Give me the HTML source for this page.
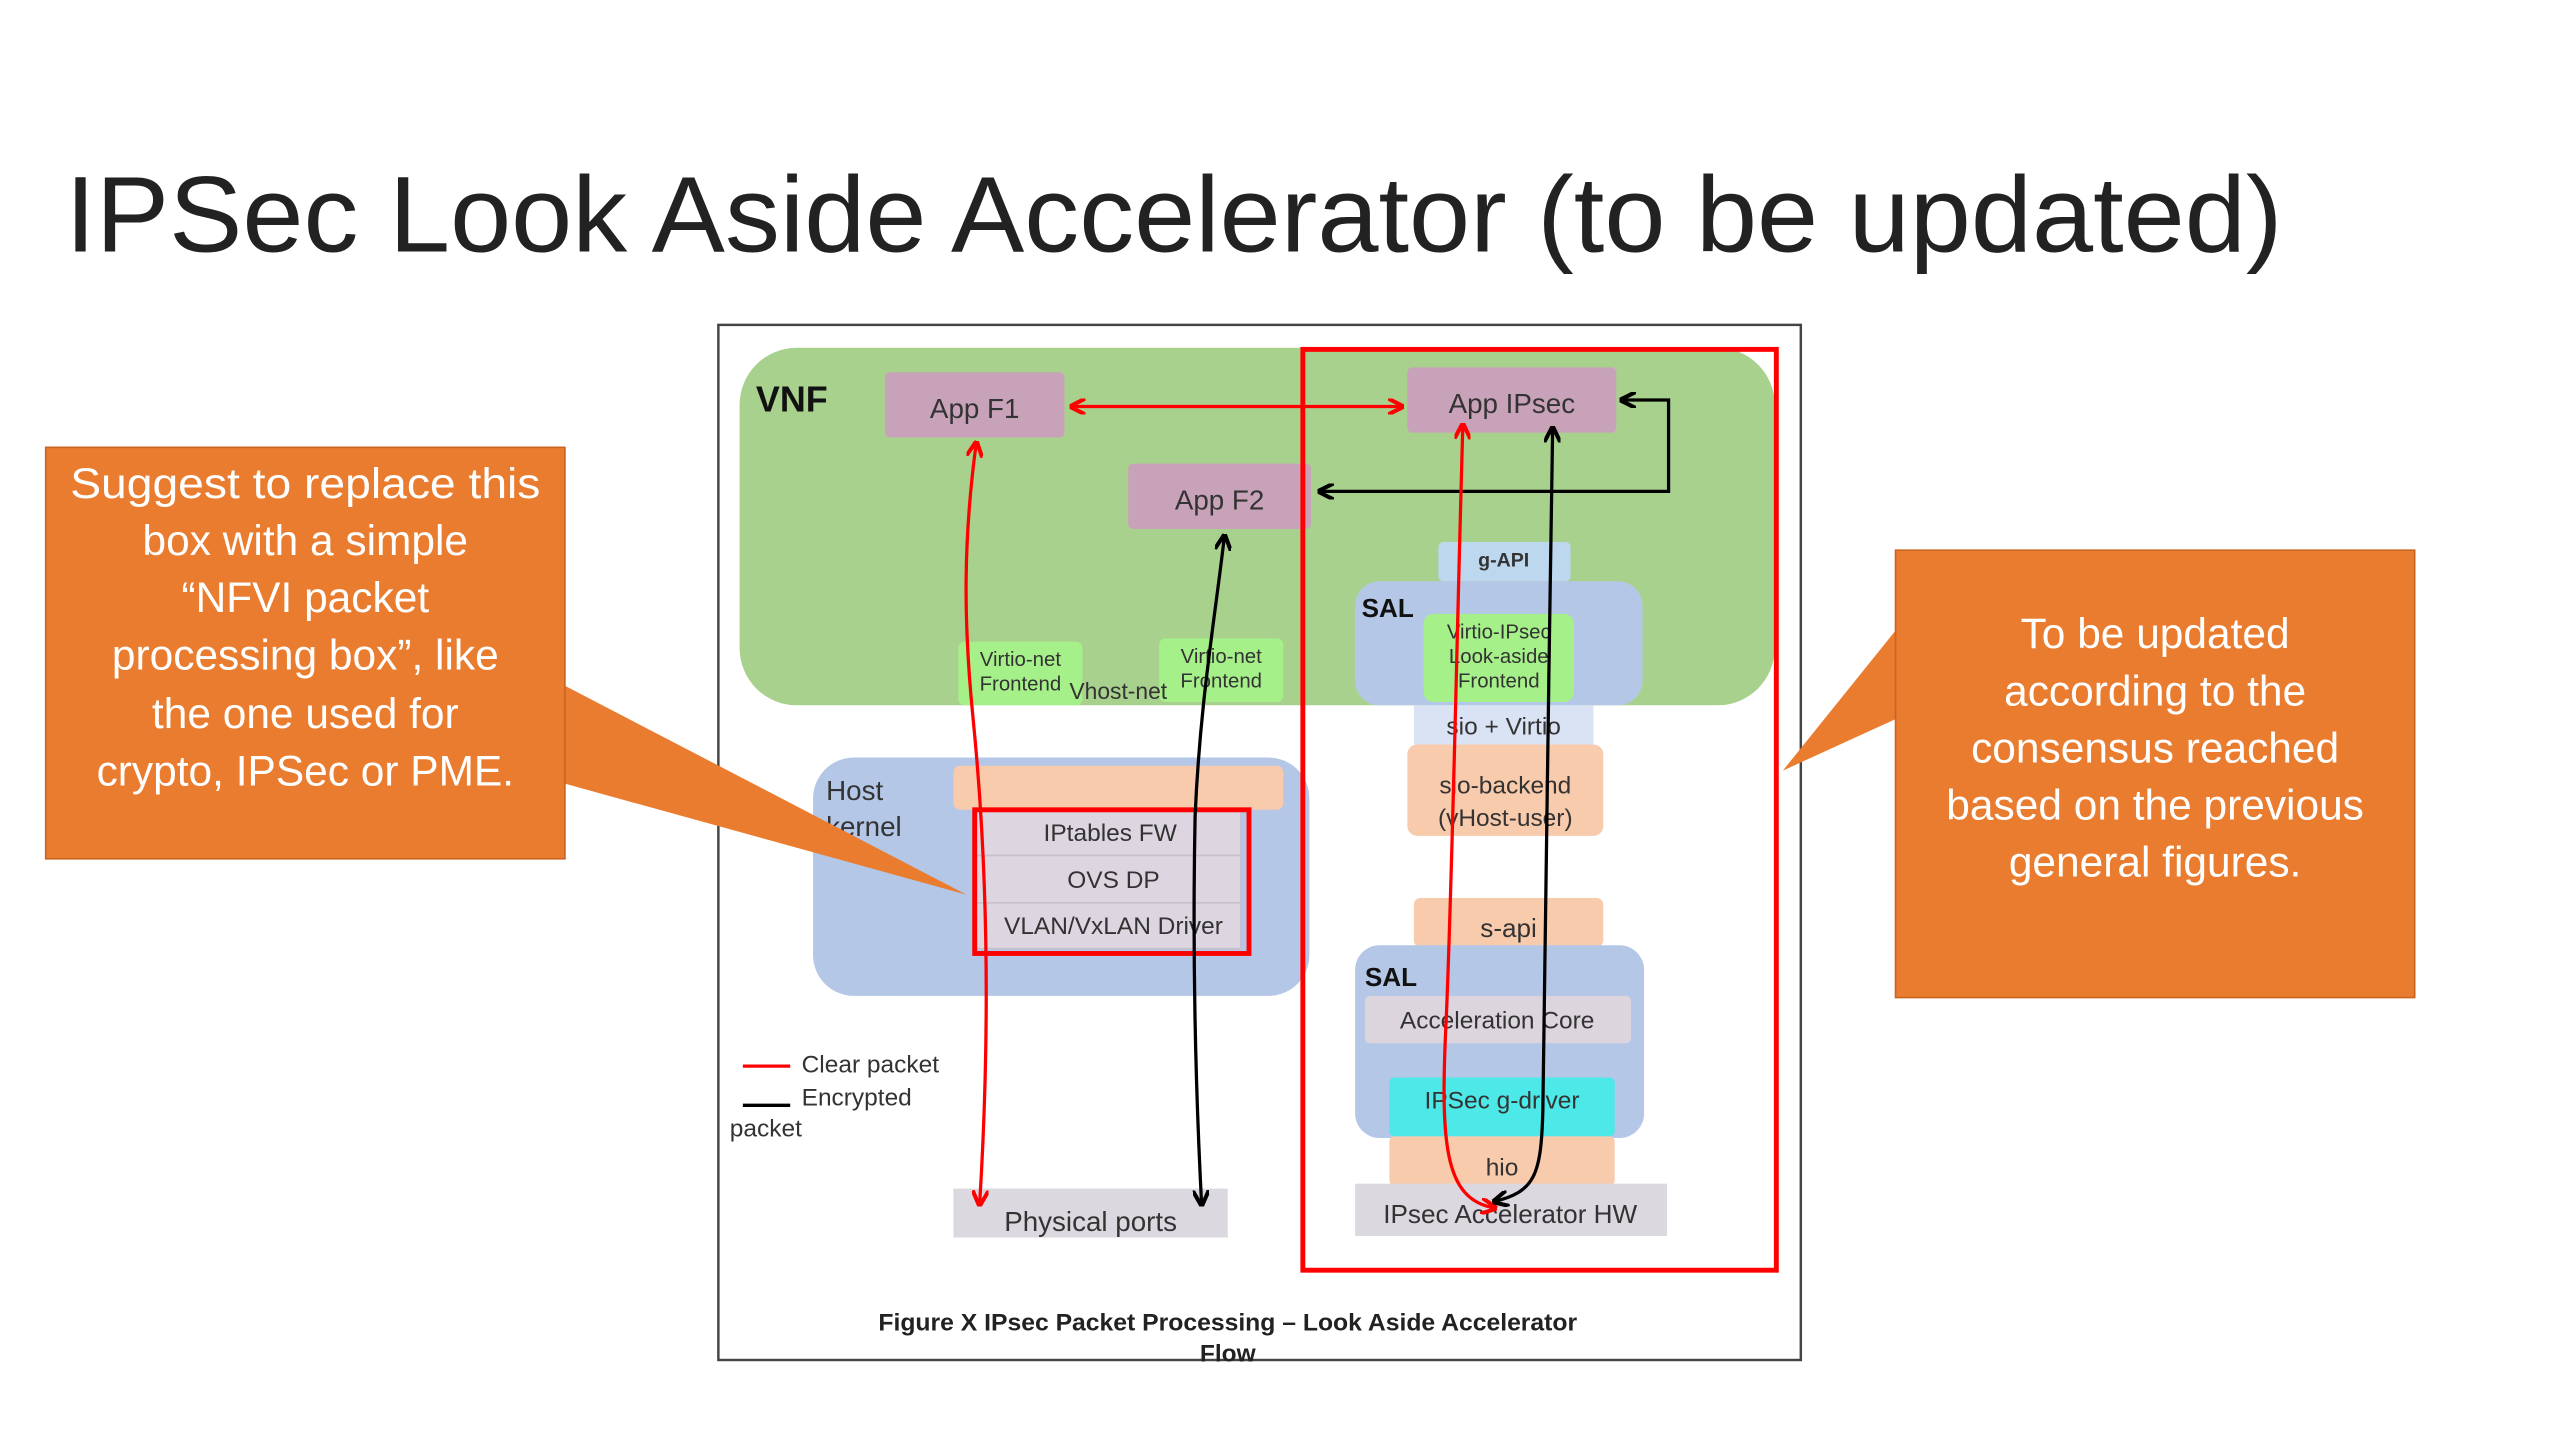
<!DOCTYPE html>
<html><head><meta charset="utf-8"><style>
html,body{margin:0;padding:0;background:#fff;width:2560px;height:1440px;overflow:hidden}
svg{display:block}
text{font-family:"Liberation Sans",sans-serif}
</style></head><body>
<svg width="2560" height="1440" viewBox="0 0 1568 882" xmlns="http://www.w3.org/2000/svg">
<defs>
<marker id="ar" viewBox="0 0 10 10" refX="9" refY="5" markerWidth="5" markerHeight="5" orient="auto-start-reverse"><path d="M0,0 L10,5 L0,10" fill="none" stroke="#f00" stroke-width="2.5"/></marker>
<marker id="ab" viewBox="0 0 10 10" refX="9" refY="5" markerWidth="5" markerHeight="5" orient="auto-start-reverse"><path d="M0,0 L10,5 L0,10" fill="none" stroke="#000" stroke-width="2.5"/></marker>
</defs>
<text x="40" y="154" font-size="66" fill="#222" textLength="1358" lengthAdjust="spacingAndGlyphs">IPSec Look Aside Accelerator (to be updated)</text>

<rect x="440" y="199" width="663" height="634" fill="#fff" stroke="#444" stroke-width="1.5"/>
<rect x="453" y="213" width="634" height="219" rx="35" fill="#a9d18e"/>
<text x="463" y="252" font-size="22" font-weight="bold" fill="#111">VNF</text>

<g font-size="17" fill="#333" text-anchor="middle">
<rect x="542" y="228" width="110" height="40" rx="3" fill="#c8a2b8"/><text x="597" y="256">App F1</text>
<rect x="862" y="225" width="128" height="40" rx="3" fill="#c8a2b8"/><text x="926" y="253">App IPsec</text>
<rect x="691" y="284" width="112" height="40" rx="3" fill="#c8a2b8"/><text x="747" y="312">App F2</text>
</g>

<g font-size="12.5" fill="#333" text-anchor="middle">
<rect x="587" y="393" width="76" height="39" rx="4" fill="#a6f08a"/><text x="625" y="408">Virtio-net</text><text x="625" y="423">Frontend</text>
<rect x="710" y="391" width="76" height="39" rx="4" fill="#a6f08a"/><text x="748" y="406">Virtio-net</text><text x="748" y="421">Frontend</text>
</g>
<text x="655" y="428" font-size="14" fill="#333">Vhost-net</text>

<rect x="881" y="332" width="81" height="24" rx="3" fill="#bdd7ee"/>
<text x="921" y="347" font-size="12" font-weight="bold" text-anchor="middle" fill="#333">g-API</text>
<rect x="830" y="356" width="176" height="76" rx="15" fill="#b4c7e7"/>
<text x="834" y="378" font-size="16" font-weight="bold" fill="#111">SAL</text>
<rect x="872" y="376" width="92" height="54" rx="6" fill="#a6f08a"/>
<g font-size="12.5" fill="#333" text-anchor="middle"><text x="918" y="391">Virtio-IPsec</text><text x="918" y="406">Look-aside</text><text x="918" y="421">Frontend</text></g>
<rect x="866" y="432" width="110" height="24" fill="#dae3f3"/>
<text x="921" y="450" font-size="15" text-anchor="middle" fill="#333">sio + Virtio</text>
<rect x="862" y="456" width="120" height="56" rx="6" fill="#f8cbad"/>
<g font-size="15" fill="#333" text-anchor="middle"><text x="922" y="486">sio-backend</text><text x="922" y="506">(vHost-user)</text></g>
<rect x="866" y="550" width="116" height="30" rx="4" fill="#f8cbad"/>
<text x="924" y="574" font-size="16" text-anchor="middle" fill="#333">s-api</text>
<rect x="830" y="579" width="177" height="118" rx="15" fill="#b4c7e7"/>
<text x="836" y="604" font-size="16" font-weight="bold" fill="#111">SAL</text>
<rect x="836" y="610" width="163" height="29" rx="3" fill="#dcd5de"/>
<text x="917" y="630" font-size="15" text-anchor="middle" fill="#333">Acceleration Core</text>
<rect x="851" y="660" width="138" height="36" rx="3" fill="#4de8e8"/>
<text x="920" y="679" font-size="15" text-anchor="middle" fill="#333">IPSec g-driver</text>
<rect x="851" y="696" width="138" height="30" rx="3" fill="#f8cbad"/>
<text x="920" y="720" font-size="15" text-anchor="middle" fill="#333">hio</text>
<rect x="830" y="725" width="191" height="32" fill="#dcd8df"/>
<text x="925" y="749" font-size="16" text-anchor="middle" fill="#333">IPsec Accelerator HW</text>

<rect x="498" y="464" width="304" height="146" rx="25" fill="#b4c7e7"/>
<text x="506" y="490" font-size="17" fill="#333">Host</text>
<text x="506" y="512" font-size="17" fill="#333">kernel</text>
<rect x="584" y="469" width="202" height="27" rx="4" fill="#f8cbad"/>
<g font-size="15" fill="#333" text-anchor="middle">
<rect x="598" y="497" width="162" height="27" fill="#ddd6e0" stroke="#c8c0cc"/><text x="680" y="515">IPtables FW</text>
<rect x="598" y="524" width="162" height="29" fill="#ddd6e0" stroke="#c8c0cc"/><text x="682" y="544">OVS DP</text>
<rect x="598" y="553" width="162" height="28" fill="#ddd6e0" stroke="#c8c0cc"/><text x="682" y="572">VLAN/VxLAN Driver</text>
</g>
<rect x="597" y="496" width="168" height="88" fill="none" stroke="#f00" stroke-width="3"/>

<rect x="584" y="728" width="168" height="30" fill="#dcd8df"/>
<text x="668" y="754" font-size="17" text-anchor="middle" fill="#333">Physical ports</text>

<line x1="455" y1="653" x2="484" y2="653" stroke="#f00" stroke-width="2"/>
<line x1="455" y1="677" x2="484" y2="677" stroke="#000" stroke-width="2"/>
<g font-size="15" fill="#333"><text x="491" y="657">Clear packet</text><text x="491" y="677">Encrypted</text><text x="447" y="696">packet</text></g>

<rect x="798" y="214" width="290" height="564" fill="none" stroke="#f00" stroke-width="3"/>

<line x1="656" y1="249" x2="859" y2="249" stroke="#f00" stroke-width="2" marker-start="url(#ar)" marker-end="url(#ar)"/>
<path d="M598,271 C590,330 590,380 596,440 C606,540 606,640 600,738" fill="none" stroke="#f00" stroke-width="2" marker-start="url(#ar)" marker-end="url(#ar)"/>
<path d="M750,328 C744,380 735,430 732,500 C730,600 733,680 736,738" fill="none" stroke="#000" stroke-width="2" marker-start="url(#ab)" marker-end="url(#ab)"/>
<polyline points="808,301 1022,301 1022,245 993,245" fill="none" stroke="#000" stroke-width="2" marker-start="url(#ab)" marker-end="url(#ab)"/>
<path d="M896,260 C892,400 890,520 886,620 C882,700 884,735 916,740" fill="none" stroke="#f00" stroke-width="2" marker-start="url(#ar)" marker-end="url(#ar)"/>
<path d="M915,736 C940,730 944,720 945,680 C948,560 948,400 951,262" fill="none" stroke="#000" stroke-width="2" marker-start="url(#ab)" marker-end="url(#ab)"/>

<text x="752" y="815" font-size="15" font-weight="bold" text-anchor="middle" fill="#222" textLength="428" lengthAdjust="spacingAndGlyphs">Figure X IPsec Packet Processing – Look Aside Accelerator</text>
<text x="752" y="834" font-size="15" font-weight="bold" text-anchor="middle" fill="#222">Flow</text>

<polygon points="346,420 346,480 592,548" fill="#ea7c30"/>
<rect x="28" y="274" width="318" height="252" fill="#ea7c30" stroke="#c9651f" stroke-width="1"/>
<g font-size="26" fill="#fff" text-anchor="middle">
<text x="187" y="305" textLength="288" lengthAdjust="spacingAndGlyphs">Suggest to replace this</text>
<text x="187" y="340">box with a simple</text>
<text x="187" y="375">“NFVI packet</text>
<text x="187" y="410">processing box”, like</text>
<text x="187" y="446">the one used for</text>
<text x="187" y="481">crypto, IPSec or PME.</text>
</g>

<polygon points="1162,385 1162,440 1092,472" fill="#ea7c30"/>
<rect x="1161" y="337" width="318" height="274" fill="#ea7c30" stroke="#c9651f" stroke-width="1"/>
<g font-size="26" fill="#fff" text-anchor="middle">
<text x="1320" y="397">To be updated</text>
<text x="1320" y="432">according to the</text>
<text x="1320" y="467">consensus reached</text>
<text x="1320" y="502">based on the previous</text>
<text x="1320" y="537">general figures.</text>
</g>
</svg>
</body></html>
